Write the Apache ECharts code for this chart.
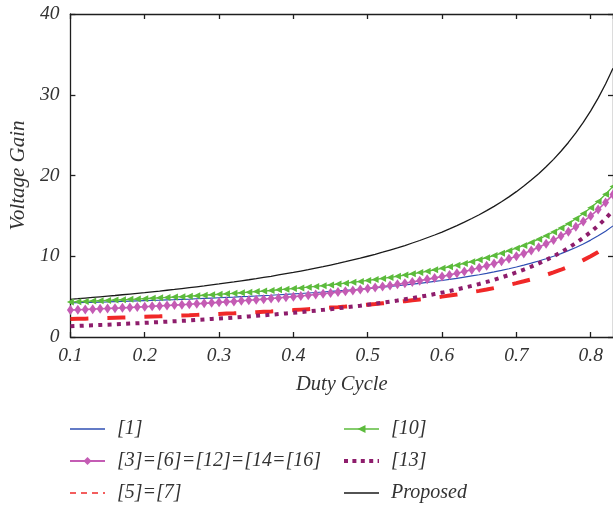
<!DOCTYPE html>
<html>
<head>
<meta charset="utf-8">
<script src="https://cdn.jsdelivr.net/npm/echarts@6/dist/echarts.min.js"></script>
<style>
html,body{margin:0;padding:0;background:#fff;}
#chart{width:613px;height:509px;}
</style>
</head>
<body>
<div id="chart"></div>
<script>
// Duty cycle samples (0.10 .. 0.83, step 0.01)
const dutyCycle = [0.10,0.11,0.12,0.13,0.14,0.15,0.16,0.17,0.18,0.19,
  0.20,0.21,0.22,0.23,0.24,0.25,0.26,0.27,0.28,0.29,
  0.30,0.31,0.32,0.33,0.34,0.35,0.36,0.37,0.38,0.39,
  0.40,0.41,0.42,0.43,0.44,0.45,0.46,0.47,0.48,0.49,
  0.50,0.51,0.52,0.53,0.54,0.55,0.56,0.57,0.58,0.59,
  0.60,0.61,0.62,0.63,0.64,0.65,0.66,0.67,0.68,0.69,
  0.70,0.71,0.72,0.73,0.74,0.75,0.76,0.77,0.78,0.79,
  0.80,0.81,0.82,0.83];

const gainRef1 = [4.22,4.25,4.27,4.30,4.33,4.35,4.38,4.41,4.44,4.47,
  4.50,4.53,4.56,4.60,4.63,4.67,4.70,4.74,4.78,4.82,
  4.86,4.90,4.94,4.99,5.03,5.08,5.13,5.17,5.23,5.28,
  5.33,5.39,5.45,5.51,5.57,5.64,5.70,5.77,5.85,5.92,
  6.00,6.08,6.17,6.26,6.35,6.44,6.55,6.65,6.76,6.88,
  7.00,7.13,7.26,7.41,7.56,7.71,7.88,8.06,8.25,8.45,
  8.67,8.90,9.14,9.41,9.69,10.00,10.33,10.70,11.09,11.52,
  12.00,12.53,13.11,13.76];

const gainRef3 = [3.33,3.37,3.41,3.45,3.49,3.53,3.57,3.61,3.66,3.70,
  3.75,3.80,3.85,3.90,3.95,4.00,4.05,4.11,4.17,4.23,
  4.29,4.35,4.41,4.48,4.55,4.62,4.69,4.76,4.84,4.92,
  5.00,5.08,5.17,5.26,5.36,5.45,5.56,5.66,5.77,5.88,
  6.00,6.12,6.25,6.38,6.52,6.67,6.82,6.98,7.14,7.32,
  7.50,7.69,7.89,8.11,8.33,8.57,8.82,9.09,9.38,9.68,
  10.00,10.34,10.71,11.11,11.54,12.00,12.50,13.04,13.64,14.29,
  15.00,15.79,16.67,17.65];

const gainRef5 = [2.22,2.25,2.27,2.30,2.33,2.35,2.38,2.41,2.44,2.47,
  2.50,2.53,2.56,2.60,2.63,2.67,2.70,2.74,2.78,2.82,
  2.86,2.90,2.94,2.99,3.03,3.08,3.13,3.17,3.23,3.28,
  3.33,3.39,3.45,3.51,3.57,3.64,3.70,3.77,3.85,3.92,
  4.00,4.08,4.17,4.26,4.35,4.44,4.55,4.65,4.76,4.88,
  5.00,5.13,5.26,5.41,5.56,5.71,5.88,6.06,6.25,6.45,
  6.67,6.90,7.14,7.41,7.69,8.00,8.33,8.70,9.09,9.52,
  10.00,10.53,11.11,11.76];

const gainRef10 = [4.33,4.37,4.41,4.45,4.49,4.53,4.57,4.61,4.66,4.70,
  4.75,4.80,4.85,4.90,4.95,5.00,5.05,5.11,5.17,5.23,
  5.29,5.35,5.41,5.48,5.55,5.62,5.69,5.76,5.84,5.92,
  6.00,6.08,6.17,6.26,6.36,6.45,6.56,6.66,6.77,6.88,
  7.00,7.12,7.25,7.38,7.52,7.67,7.82,7.98,8.14,8.32,
  8.50,8.69,8.89,9.11,9.33,9.57,9.82,10.09,10.38,10.68,
  11.00,11.34,11.71,12.11,12.54,13.00,13.50,14.04,14.64,15.29,
  16.00,16.79,17.67,18.65];

const gainRef13 = [1.33,1.37,1.41,1.45,1.49,1.53,1.57,1.61,1.66,1.70,
  1.75,1.80,1.85,1.90,1.95,2.00,2.05,2.11,2.17,2.23,
  2.29,2.35,2.41,2.48,2.55,2.62,2.69,2.76,2.84,2.92,
  3.00,3.08,3.17,3.26,3.36,3.45,3.56,3.66,3.77,3.88,
  4.00,4.12,4.25,4.38,4.52,4.67,4.82,4.98,5.14,5.32,
  5.50,5.69,5.89,6.11,6.33,6.57,6.82,7.09,7.38,7.68,
  8.00,8.34,8.71,9.11,9.54,10.00,10.50,11.04,11.64,12.29,
  13.00,13.79,14.67,15.65];

const gainProposed = [4.67,4.74,4.82,4.90,4.98,5.06,5.14,5.23,5.32,5.41,
  5.50,5.60,5.69,5.79,5.89,6.00,6.11,6.22,6.33,6.45,
  6.57,6.70,6.82,6.96,7.09,7.23,7.38,7.52,7.68,7.84,
  8.00,8.17,8.34,8.53,8.71,8.91,9.11,9.32,9.54,9.76,
  10.00,10.24,10.50,10.77,11.04,11.33,11.64,11.95,12.29,12.63,
  13.00,13.38,13.79,14.22,14.67,15.14,15.65,16.18,16.75,17.35,
  18.00,18.69,19.43,20.22,21.08,22.00,23.00,24.09,25.27,26.57,
  28.00,29.58,31.33,33.29];

const seriesNames = ['[1]', '[3]=[6]=[12]=[14=[16]', '[5]=[7]', '[10]', '[13]', 'Proposed'];

function pairs(ys){ return dutyCycle.map((d,i)=>[d, ys[i]]); }

const FONT = '"Liberation Serif", "DejaVu Serif", serif';
const axisColor = '#1e1e1e';
const labelStyle = {fontFamily: FONT, fontStyle: 'italic', fontSize: 19.5, color: '#333'};

const chart = echarts.init(document.getElementById('chart'), null, {renderer: 'canvas'});

const commonX = {
  type: 'value', min: 0.1, max: 0.83, interval: 0.1,
  splitLine: {show: false},
  axisLine: {show: true, onZero: false, lineStyle: {color: axisColor, width: 1.3}},
  axisTick: {show: true, inside: true, length: 5, lineStyle: {color: axisColor, width: 1.3}}
};
const commonY = {
  type: 'value', min: 0, max: 40, interval: 10,
  splitLine: {show: false},
  axisLine: {show: true, onZero: false, lineStyle: {color: axisColor, width: 1.3}},
  axisTick: {show: true, inside: true, length: 5, lineStyle: {color: axisColor, width: 1.3}}
};
function xLabel(v){
  const k = Math.round(v*10);
  if (Math.abs(v*10 - k) > 1e-6) return '';
  return (k/10).toFixed(1);
}

const legendText = {fontFamily: FONT, fontStyle: 'italic', fontSize: 20, color: '#333', padding: [0,0,0,7]};
const hideSym = {opacity: 0};

const option = {
  animation: false,
  backgroundColor: '#fff',
  grid: {left: 69, top: 14, width: 546, height: 323, containLabel: false},
  xAxis: [
    Object.assign({}, commonX, {
      position: 'bottom',
      name: 'Duty Cycle', nameLocation: 'middle', nameGap: 38,
      nameTextStyle: {fontFamily: FONT, fontStyle: 'italic', fontSize: 20.5, color: '#333'},
      axisLabel: Object.assign({}, labelStyle, {margin: 9, formatter: xLabel, showMaxLabel: false})
    }),
    Object.assign({}, commonX, {position: 'top', axisLabel: {show: false}})
  ],
  yAxis: [
    Object.assign({}, commonY, {
      position: 'left',
      name: 'Voltage Gain', nameLocation: 'middle', nameGap: 40,
      nameTextStyle: {fontFamily: FONT, fontStyle: 'italic', fontSize: 21, color: '#333'},
      axisLabel: Object.assign({}, labelStyle, {margin: 11})
    }),
    Object.assign({}, commonY, {position: 'right', axisLabel: {show: false}})
  ],
  legend: [
    {
      left: 69, top: 419, height: 90, orient: 'vertical', padding: 0,
      itemWidth: 35, itemHeight: 10, itemGap: 12,
      textStyle: legendText,
      data: [
        {name: seriesNames[0], itemStyle: hideSym, lineStyle: {width: 1.3}},
        {name: seriesNames[1], lineStyle: {width: 2}},
        {name: seriesNames[2], itemStyle: hideSym, lineStyle: {width: 1.5, type: [6,5]}}
      ]
    },
    {
      left: 342, top: 419, height: 90, orient: 'vertical', padding: 0,
      itemWidth: 35, itemHeight: 10, itemGap: 12,
      textStyle: legendText,
      data: [
        {name: seriesNames[3], lineStyle: {width: 1.5}},
        {name: seriesNames[4], itemStyle: hideSym, lineStyle: {width: 4, type: [4,4.4], cap: 'butt'}},
        {name: seriesNames[5], itemStyle: hideSym, lineStyle: {width: 1.4}}
      ]
    }
  ],
  series: [
    {
      name: seriesNames[0], type: 'line', data: pairs(gainRef1),
      symbol: 'none', lineStyle: {color: '#2f4fb3', width: 1.2}, itemStyle: {color: '#2f4fb3'}
    },
    {
      name: seriesNames[1], type: 'line', data: pairs(gainRef3),
      symbol: 'diamond', symbolSize: [7, 10], showAllSymbol: true,
      lineStyle: {color: '#c45cb4', width: 1.6}, itemStyle: {color: '#c45cb4'}
    },
    {
      name: seriesNames[2], type: 'line', data: pairs(gainRef5),
      symbol: 'none', lineStyle: {color: '#f02828', width: 4, type: [18,19], cap: 'butt'}, itemStyle: {color: '#f02828'}
    },
    {
      name: seriesNames[3], type: 'line', data: pairs(gainRef10),
      symbol: 'triangle', symbolRotate: 90, symbolSize: 7, showAllSymbol: true,
      lineStyle: {color: '#5cbb3c', width: 1.3}, itemStyle: {color: '#5cbb3c'}
    },
    {
      name: seriesNames[4], type: 'line', data: pairs(gainRef13),
      symbol: 'none', lineStyle: {color: '#8e1d6c', width: 4, type: [4,5.3], cap: 'butt'}, itemStyle: {color: '#8e1d6c'}
    },
    {
      name: seriesNames[5], type: 'line', data: pairs(gainProposed),
      symbol: 'none', lineStyle: {color: '#1a1a1a', width: 1.3}, itemStyle: {color: '#1a1a1a'}
    }
  ]
};
chart.setOption(option);
</script>
</body>
</html>
